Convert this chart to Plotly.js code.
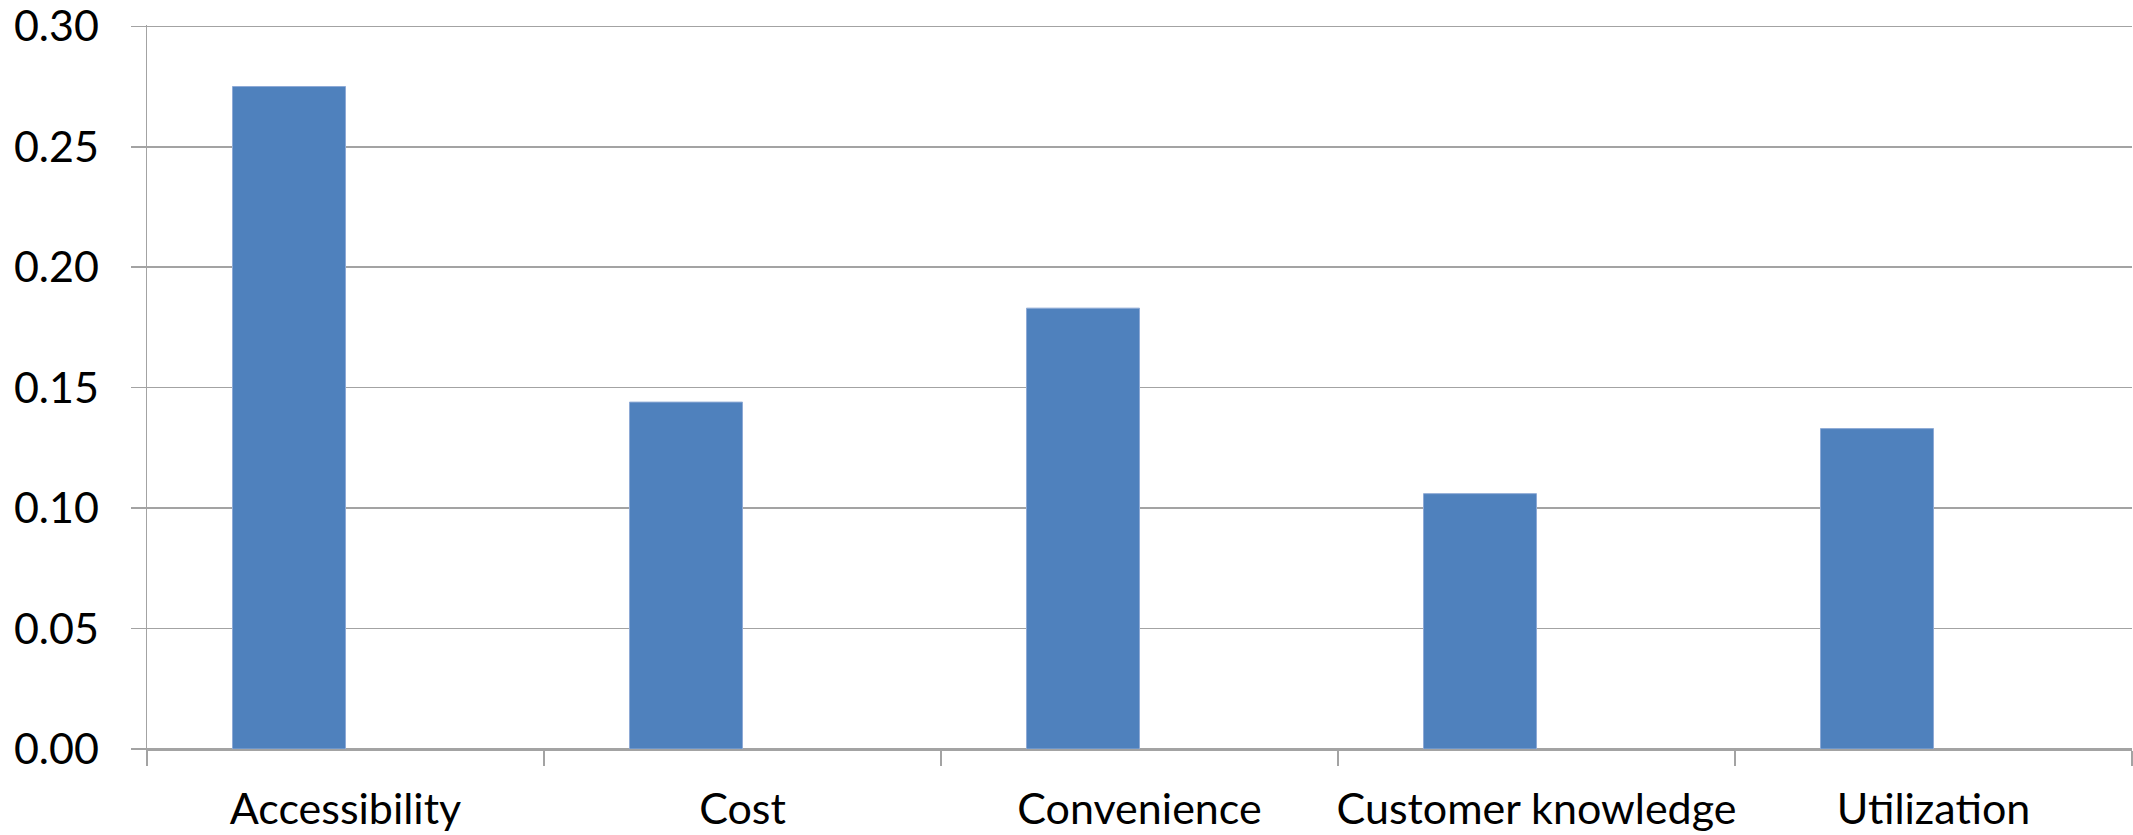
<!DOCTYPE html>
<html>
<head>
<meta charset="utf-8">
<script src="https://cdn.plot.ly/plotly-3.0.1.min.js"></script>
<style>html,body{margin:0;padding:0;background:#fff;}#chart{width:2133px;height:835px;}</style>
</head>
<body>
<div id="chart"></div>
<script>
const categories = ["Accessibility", "Cost", "Convenience", "Customer knowledge", "Utilization"];
const values = [0.275, 0.144, 0.183, 0.106, 0.133];
const yTickValues = [0, 0.05, 0.10, 0.15, 0.20, 0.25, 0.30];
const yTickLabels = ["0.00", "0.05", "0.10", "0.15", "0.20", "0.25", "0.30"];

const barW = 0.2846;
const gridColor = "#A3A3A3";
const fontFam = "Lato, 'Liberation Sans', Arial, sans-serif";

const trace = {
  type: "bar",
  x: categories,
  y: values,
  width: barW,
  offset: -barW,
  marker: { color: "#4F81BD", line: { color: "#8EAAD6", width: 1 } },
  hoverinfo: "x+y"
};

const layout = {
  width: 2133,
  height: 835,
  margin: { l: 147, r: 1, t: 25, b: 86, pad: 0 },
  paper_bgcolor: "#ffffff",
  plot_bgcolor: "#ffffff",
  showlegend: false,
  font: { family: fontFam, color: "#000000", size: 43 },
  bargap: 0,
  xaxis: {
    type: "category",
    range: [-0.5, 4.5],
    showgrid: false,
    showline: true,
    linecolor: gridColor,
    linewidth: 1.5,
    ticks: "outside",
    tickson: "boundaries",
    ticklen: 15,
    tickcolor: gridColor,
    tickwidth: 1.5,
    tickangle: 0,
    ticklabelstandoff: 22,
    tickfont: { family: fontFam, size: 43, color: "#000" },
    fixedrange: true
  },
  yaxis: {
    range: [0, 0.30054],
    tickvals: yTickValues,
    ticktext: yTickLabels,
    showgrid: true,
    gridcolor: gridColor,
    gridwidth: 1.5,
    zeroline: true,
    zerolinecolor: gridColor,
    zerolinewidth: 1.5,
    showline: true,
    linecolor: gridColor,
    linewidth: 1.5,
    ticks: "outside",
    ticklen: 15,
    tickcolor: gridColor,
    tickwidth: 1.5,
    ticklabelstandoff: 23,
    ticklabeloverflow: "allow",
    tickfont: { family: fontFam, size: 43, color: "#000" },
    fixedrange: true
  }
};

Plotly.newPlot("chart", [trace], layout, { displayModeBar: false, staticPlot: true });
</script>
</body>
</html>
